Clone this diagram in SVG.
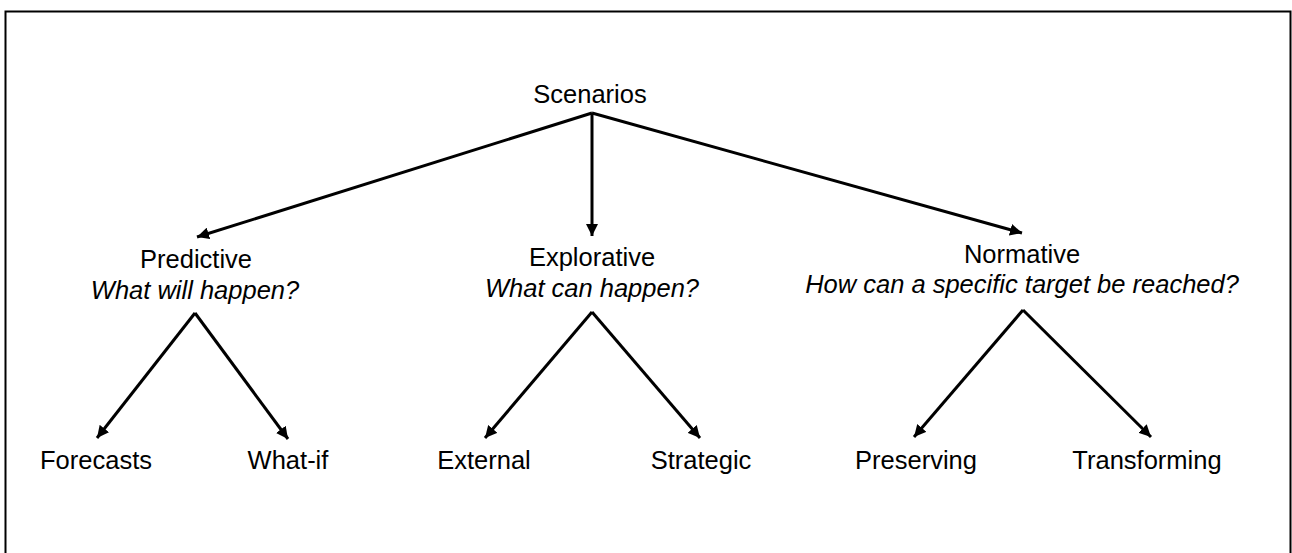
<svg xmlns="http://www.w3.org/2000/svg" width="1292" height="553" viewBox="0 0 1292 553">
<style>
text{font-family:"Liberation Sans",Arial,sans-serif;font-size:25.5px;fill:#000;text-anchor:middle}
.it{font-style:italic}
.c{stroke:#000;stroke-width:3;fill:none;marker-end:url(#ah)}
</style>
<defs>
<marker id="ah" viewBox="0 0 10 10" refX="10" refY="5" markerWidth="4" markerHeight="4" orient="auto" markerUnits="strokeWidth">
<path d="M0,0 L10,5 L0,10 z" fill="#000"/>
</marker>
</defs>
<rect x="5.5" y="11.5" width="1285" height="600" fill="#fff" stroke="#000" stroke-width="2"/>
<g id="connectors">
<line class="c" x1="592" y1="113" x2="197" y2="237"/>
<line class="c" x1="592" y1="113" x2="592" y2="236"/>
<line class="c" x1="592" y1="113" x2="1022" y2="233"/>
<line class="c" x1="195" y1="313" x2="97" y2="438"/>
<line class="c" x1="195" y1="313" x2="288" y2="439"/>
<line class="c" x1="592" y1="312" x2="485" y2="438"/>
<line class="c" x1="592" y1="312" x2="700" y2="438"/>
<line class="c" x1="1023" y1="310" x2="914" y2="437"/>
<line class="c" x1="1023" y1="310" x2="1151" y2="437"/>
</g>
<g id="scenarios"><text x="590" y="103">Scenarios</text></g>
<g id="predictive"><text x="196" y="268">Predictive</text><text class="it" x="195" y="299">What will happen?</text></g>
<g id="explorative"><text x="592" y="266">Explorative</text><text class="it" x="592" y="297">What can happen?</text></g>
<g id="normative"><text x="1022" y="263">Normative</text><text class="it" x="1022" y="293">How can a specific target be reached?</text></g>
<g id="forecasts"><text x="96" y="469">Forecasts</text></g>
<g id="whatif"><text x="288" y="469">What-if</text></g>
<g id="external"><text x="484" y="469">External</text></g>
<g id="strategic"><text x="701" y="469">Strategic</text></g>
<g id="preserving"><text x="916" y="469">Preserving</text></g>
<g id="transforming"><text x="1147" y="469">Transforming</text></g>
</svg>
